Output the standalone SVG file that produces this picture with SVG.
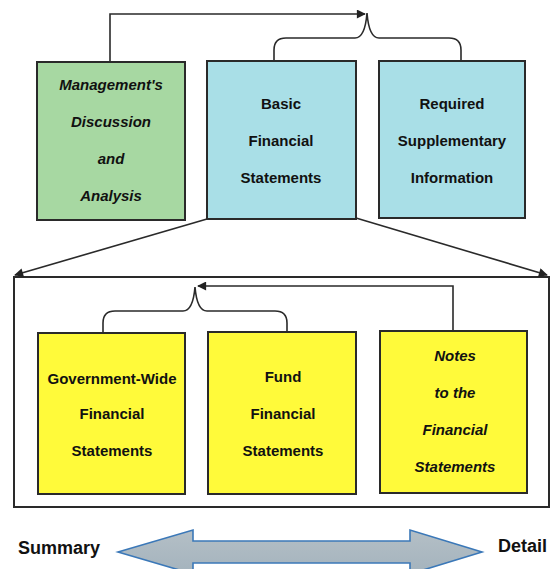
<svg xmlns="http://www.w3.org/2000/svg" width="550" height="569" viewBox="0 0 550 569">
<defs>
<marker id="ah" viewBox="0 0 10 10" refX="9" refY="5" markerWidth="12" markerHeight="9" markerUnits="userSpaceOnUse" orient="auto">
<path d="M0,0 L10,5 L0,10 Z" fill="#222"/>
</marker>
<linearGradient id="g" x1="0" y1="0" x2="0" y2="1">
<stop offset="0" stop-color="#b4bfc6"/>
<stop offset="1" stop-color="#a4b3bd"/>
</linearGradient>
</defs>
<style>
.box{stroke:#2a2a2a;stroke-width:2}
.green{fill:#a7d8a2}
.blue{fill:#a9dfe7}
.yellow{fill:#fffa3a}
.t{font-family:"Liberation Sans",Arial,sans-serif;font-weight:bold;font-size:15px;fill:#111;text-anchor:middle;dominant-baseline:central}
.i{font-style:italic}
.lbl{font-family:"Liberation Sans",Arial,sans-serif;font-weight:bold;font-size:18px;fill:#111;dominant-baseline:central}
.c{fill:none;stroke:#2a2a2a;stroke-width:1.6}
</style>
<rect width="550" height="569" fill="#fff"/>
<g id="container"><rect x="14" y="277" width="535" height="230" fill="#fff" class="box"/></g>
<g id="connectors">
<path class="c" d="M110,61 L110,14 L365,14" marker-end="url(#ah)"/>
<path class="c" d="M274,61 L274,50 Q274,38 286,38 L355,38 Q365,38 367,13 Q369,38 379,38 L449,38 Q461,38 461,50 L461,60"/>
<path class="c" d="M207,219 L15,275" marker-end="url(#ah)"/>
<path class="c" d="M356,218 L547,275" marker-end="url(#ah)"/>
<path class="c" d="M453,331 L453,286 L198,286" marker-end="url(#ah)"/>
<path class="c" d="M103,333 L103,323 Q103,311 115,311 L183,311 Q193,311 195,287 Q197,311 207,311 L275,311 Q287,311 287,323 L287,332"/>
</g>
<g id="mda">
<rect x="37" y="62" width="148" height="158" class="box green"/>
<text class="t i" x="111" y="84">Management's</text>
<text class="t i" x="111" y="121">Discussion</text>
<text class="t i" x="111" y="158">and</text>
<text class="t i" x="111" y="195">Analysis</text>
</g>
<g id="basic">
<rect x="207" y="61" width="149" height="158" class="box blue"/>
<text class="t" x="281" y="103">Basic</text>
<text class="t" x="281" y="140">Financial</text>
<text class="t" x="281" y="177">Statements</text>
</g>
<g id="rsi">
<rect x="379" y="61" width="146" height="157" class="box blue"/>
<text class="t" x="452" y="103">Required</text>
<text class="t" x="452" y="140">Supplementary</text>
<text class="t" x="452" y="177">Information</text>
</g>
<g id="gov">
<rect x="38" y="333" width="147" height="161" class="box yellow"/>
<text class="t" x="112" y="378">Government-Wide</text>
<text class="t" x="112" y="413">Financial</text>
<text class="t" x="112" y="450">Statements</text>
</g>
<g id="fund">
<rect x="208" y="332" width="148" height="162" class="box yellow"/>
<text class="t" x="283" y="376">Fund</text>
<text class="t" x="283" y="413">Financial</text>
<text class="t" x="283" y="450">Statements</text>
</g>
<g id="notes">
<rect x="380" y="331" width="147" height="162" class="box yellow"/>
<text class="t i" x="455" y="355">Notes</text>
<text class="t i" x="455" y="392">to the</text>
<text class="t i" x="455" y="429">Financial</text>
<text class="t i" x="455" y="466">Statements</text>
</g>
<g id="scale">
<path d="M118,552 L193,530 L193,541 L410,541 L410,530 L482,552 L410,574 L410,563 L193,563 L193,574 Z" fill="url(#g)" stroke="#3b78b8" stroke-width="1.6"/>
<text class="lbl" x="18" y="548">Summary</text>
<text class="lbl" x="498" y="546">Detail</text>
</g>
</svg>
